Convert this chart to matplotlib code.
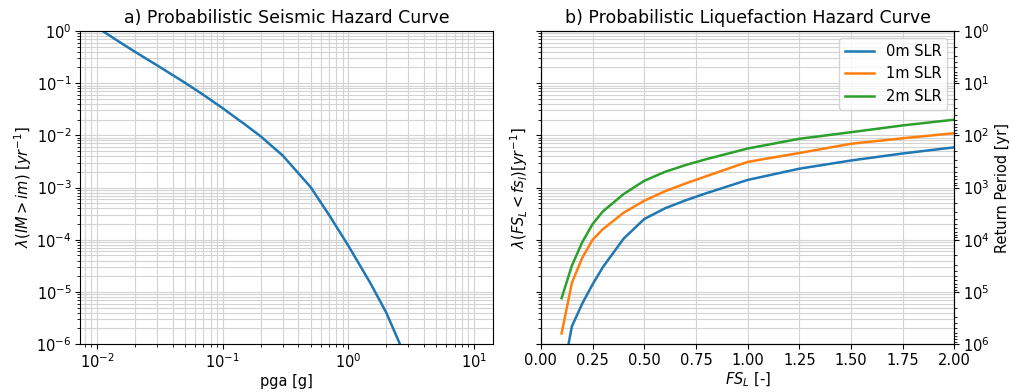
import matplotlib
matplotlib.use("Agg")
import matplotlib.pyplot as plt
import numpy as np

# a) seismic hazard curve
pga = [0.01, 0.015, 0.02, 0.03, 0.05, 0.07, 0.1, 0.15, 0.2, 0.3, 0.5, 0.7, 1.0, 1.5,
       2.0, 3.0, 5.0, 10.0]
lam_pga = [1.17, 0.62, 0.40, 0.22, 0.102, 0.060, 0.033, 0.0162, 0.0096, 0.0041, 1.02e-3,
           3.0e-4, 7.6e-5, 1.45e-5, 4.0e-6, 4.2e-7, 2e-8, 1e-10]

# b) liquefaction hazard curves
fs = [0.1, 0.15, 0.2, 0.25, 0.3, 0.4, 0.5, 0.6, 0.7, 0.8, 1.0, 1.25, 1.5, 1.75, 2.0]
lam_0m = [2e-7, 2.2e-6, 6e-6, 1.4e-5, 3e-5, 1.05e-4, 2.5e-4, 4e-4, 5.7e-4, 7.8e-4,
          1.4e-3, 2.3e-3, 3.3e-3, 4.5e-3, 5.9e-3]
lam_1m = [1.6e-6, 1.5e-5, 4.5e-5, 1.0e-4, 1.6e-4, 3.3e-4, 5.6e-4, 8.5e-4, 1.2e-3, 1.65e-3,
          3.1e-3, 4.6e-3, 6.9e-3, 8.8e-3, 1.1e-2]
lam_2m = [7.6e-6, 3.2e-5, 9e-5, 2e-4, 3.5e-4, 7.5e-4, 1.35e-3, 2e-3, 2.7e-3, 3.5e-3,
          5.6e-3, 8.6e-3, 1.15e-2, 1.55e-2, 2.0e-2]
labels = ['0m SLR', '1m SLR', '2m SLR']

plt.rcParams['font.size'] = 10.5
plt.rcParams['xtick.major.pad'] = 2.5
plt.rcParams['ytick.major.pad'] = 2.5

fig, (ax1, ax2) = plt.subplots(1, 2, figsize=(10.11, 3.92), dpi=100)
fig.subplots_adjust(left=0.079, right=0.944, bottom=0.122, top=0.921, wspace=0.115)

gcol = '#d3d3d3'
ax1.loglog(pga, lam_pga, lw=1.8)
ax1.set_xlim(0.0073, 14.2)
ax1.set_ylim(1e-6, 1)
ax1.grid(True, which='both', color=gcol, lw=0.8)
ax1.set_xlabel('pga [g]', labelpad=2)
ax1.set_ylabel(r'$\lambda(IM > im)$ [$yr^{-1}$]', labelpad=2)
ax1.set_title('a) Probabilistic Seismic Hazard Curve', fontsize=12.5)

for y, lab in zip([lam_0m, lam_1m, lam_2m], labels):
    ax2.plot(fs, y, lw=1.8, label=lab)
ax2.set_yscale('log')
ax2.set_xlim(0, 2)
ax2.set_ylim(1e-6, 1)
ax2.set_xticks(np.arange(0, 2.01, 0.25))
ax2.grid(True, which='major', axis='x', color=gcol, lw=0.8)
ax2.grid(True, which='both', axis='y', color=gcol, lw=0.8)
ax2.tick_params(axis='y', which='both', labelleft=False)
ax2.set_xlabel(r'$FS_L$ [-]', labelpad=2)
ax2.set_ylabel(r'$\lambda(FS_L < fs_l)[yr^{-1}]$')
ax2.set_title('b) Probabilistic Liquefaction Hazard Curve', fontsize=12.5)
ax2.legend(loc='upper right')

ax3 = ax2.twinx()
ax3.set_yscale('log')
ax3.set_ylim(1e6, 1)
ax3.set_ylabel('Return Period [yr]')

fig.savefig('out.png', dpi=100)
